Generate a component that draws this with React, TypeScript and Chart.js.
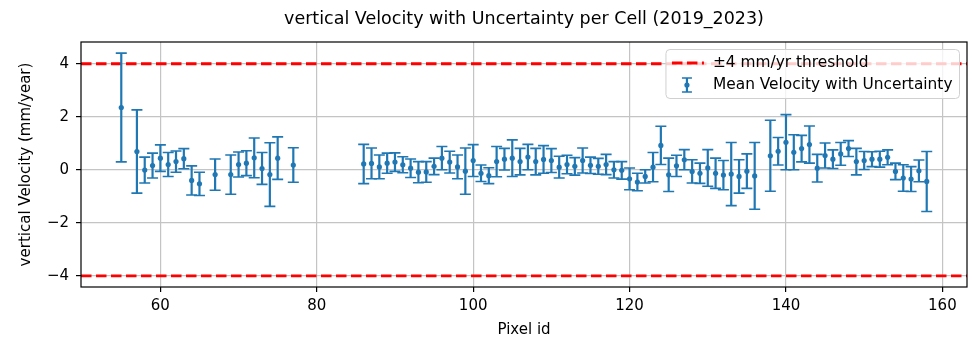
import { useEffect, useRef } from "react";
import { Chart, registerables } from "chart.js";

Chart.register(...registerables);

// ---------------- data ----------------
const pixelIds = [
  55, 57, 58, 59, 60, 61, 62, 63, 64, 65, 67, 69, 70, 71, 72, 73, 74, 75, 77,
  86, 87, 88, 89, 90, 91, 92, 93, 94, 95, 96, 97, 98, 99, 100, 101, 102, 103, 104, 105,
  106, 107, 108, 109, 110, 111, 112, 113, 114, 115, 116, 117, 118, 119, 120, 121, 122,
  123, 124, 125, 126, 127, 128, 129, 130, 131, 132, 133, 134, 135, 136,
  138, 139, 140, 141, 142, 143, 144, 145, 146, 147, 148, 149, 150, 151, 152, 153, 154,
  155, 156, 157, 158,
];

const meanVelocity = [
  2.35, 0.69, -0.01, 0.16, 0.44, 0.2, 0.31, 0.42, -0.4, -0.53, -0.18, -0.18, 0.2, 0.25, 0.45, 0.05, -0.18, 0.44, 0.18,
  0.22, 0.24, 0.11, 0.25, 0.29, 0.19, 0.06, -0.09, -0.08, 0.13, 0.44, 0.29, 0.11, -0.05, 0.35, -0.13, -0.22, 0.31, 0.4, 0.44,
  0.31, 0.48, 0.31, 0.39, 0.35, 0.1, 0.2, 0.13, 0.35, 0.17, 0.13, 0.2, 0.0, -0.02, -0.34, -0.46, -0.25,
  0.1, 0.92, -0.19, 0.15, 0.38, -0.06, -0.13, 0.07, -0.13, -0.2, -0.16, -0.25, -0.05, -0.23,
  0.53, 0.7, 1.04, 0.66, 0.8, 0.95, 0.06, 0.54, 0.4, 0.6, 0.8, 0.31, 0.35, 0.4, 0.4, 0.47, -0.06,
  -0.31, -0.35, -0.04, -0.44,
];

const uncertainty = [
  2.05, 1.57, 0.49, 0.47, 0.5, 0.45, 0.4, 0.38, 0.55, 0.44, 0.59, 0.74, 0.47, 0.47, 0.75, 0.6, 1.2, 0.8, 0.65,
  0.74, 0.58, 0.45, 0.38, 0.35, 0.3, 0.35, 0.4, 0.39, 0.31, 0.44, 0.41, 0.45, 0.87, 0.6, 0.31, 0.3, 0.57, 0.41, 0.69,
  0.5, 0.48, 0.5, 0.52, 0.45, 0.41, 0.35, 0.33, 0.47, 0.31, 0.3, 0.38, 0.31, 0.33, 0.41, 0.33, 0.25,
  0.55, 0.72, 0.63, 0.4, 0.38, 0.44, 0.38, 0.69, 0.57, 0.55, 1.19, 0.63, 0.65, 1.26,
  1.34, 0.52, 1.04, 0.66, 0.5, 0.7, 0.52, 0.47, 0.35, 0.43, 0.3, 0.5, 0.34, 0.28, 0.3, 0.28, 0.31,
  0.5, 0.47, 0.41, 1.13,
];

const thresholdValues = [4, -4];
const xTicks = [60, 80, 100, 120, 140, 160];
const xTickLabels = ["60", "80", "100", "120", "140", "160"];
const yTicks = [-4, -2, 0, 2, 4];
const yTickLabels = ["\u22124", "\u22122", "0", "2", "4"];

const titleText = "vertical Velocity with Uncertainty per Cell (2019_2023)";
const xTitle = "Pixel id";
const yTitle = "vertical Velocity (mm/year)";
const legendLabels = ["\u00b14 mm/yr threshold", "Mean Velocity with Uncertainty"];

// ---------------- styles ----------------
const FONT = "'DejaVu Sans', 'Liberation Sans', sans-serif";
const BLUE = "#1f77b4";
const RED = "#ff0000";
const X_MIN = 49.85;
const X_MAX = 163.15;
const Y_MIN = -4.42;
const Y_MAX = 4.82;

const errorBarPlugin = {
  id: "errorBars",
  beforeDatasetDraw(chart: any, args: any) {
    if (args.index !== 0) return;
    const { ctx } = chart;
    const xs = chart.scales.x;
    const ys = chart.scales.y;
    const cap = 5.5;
    ctx.save();
    ctx.strokeStyle = BLUE;
    ctx.lineCap = "butt";
    pixelIds.forEach((id, i) => {
      const px = xs.getPixelForValue(id);
      const top = ys.getPixelForValue(meanVelocity[i] + uncertainty[i]);
      const bot = ys.getPixelForValue(meanVelocity[i] - uncertainty[i]);
      ctx.lineWidth = 2.2;
      ctx.beginPath();
      ctx.moveTo(px, top);
      ctx.lineTo(px, bot);
      ctx.stroke();
      ctx.lineWidth = 1.6;
      ctx.beginPath();
      ctx.moveTo(px - cap, top);
      ctx.lineTo(px + cap, top);
      ctx.moveTo(px - cap, bot);
      ctx.lineTo(px + cap, bot);
      ctx.stroke();
    });
    ctx.restore();
  },
};

const framePlugin = {
  id: "frameAndLegend",
  afterDatasetsDraw(chart: any) {
    const { ctx, chartArea } = chart;
    const { left, right, top, bottom } = chartArea;
    // axes frame (all four spines)
    ctx.save();
    ctx.strokeStyle = "#000";
    ctx.lineWidth = 1.2;
    ctx.strokeRect(left, top, right - left, bottom - top);
    ctx.restore();

    // title, centred over the axes
    ctx.save();
    ctx.font = `17.5px ${FONT}`;
    ctx.fillStyle = "#000";
    ctx.textAlign = "center";
    ctx.textBaseline = "middle";
    ctx.fillText(titleText, (left + right) / 2, 19);
    ctx.restore();

    // legend (drawn inside the axes, upper right)
    ctx.save();
    ctx.font = `15.4px ${FONT}`;
    const textW = Math.max(...legendLabels.map((t) => ctx.measureText(t).width));
    const boxRight = right - 7.5;
    const boxTop = top + 7.5;
    const textX = boxRight - 7 - textW;
    const boxLeft = textX - 47;
    const boxH = 49;
    const r = 4;
    ctx.beginPath();
    ctx.moveTo(boxLeft + r, boxTop);
    ctx.lineTo(boxRight - r, boxTop);
    ctx.quadraticCurveTo(boxRight, boxTop, boxRight, boxTop + r);
    ctx.lineTo(boxRight, boxTop + boxH - r);
    ctx.quadraticCurveTo(boxRight, boxTop + boxH, boxRight - r, boxTop + boxH);
    ctx.lineTo(boxLeft + r, boxTop + boxH);
    ctx.quadraticCurveTo(boxLeft, boxTop + boxH, boxLeft, boxTop + boxH - r);
    ctx.lineTo(boxLeft, boxTop + r);
    ctx.quadraticCurveTo(boxLeft, boxTop, boxLeft + r, boxTop);
    ctx.closePath();
    ctx.fillStyle = "rgba(255,255,255,0.8)";
    ctx.fill();
    ctx.strokeStyle = "#d0d0d0";
    ctx.lineWidth = 1;
    ctx.stroke();

    const row1 = boxTop + 13.5;
    const row2 = boxTop + 35.5;
    const hx0 = boxLeft + 6;
    const hx1 = hx0 + 30;
    // threshold handle
    ctx.strokeStyle = RED;
    ctx.lineWidth = 2.9;
    ctx.setLineDash([10.5, 4.5]);
    ctx.beginPath();
    ctx.moveTo(hx0, row1);
    ctx.lineTo(hx1 + 2, row1);
    ctx.stroke();
    ctx.setLineDash([]);
    // errorbar handle
    const hc = (hx0 + hx1) / 2;
    ctx.strokeStyle = BLUE;
    ctx.lineWidth = 2.2;
    ctx.beginPath();
    ctx.moveTo(hc, row2 - 7);
    ctx.lineTo(hc, row2 + 7);
    ctx.stroke();
    ctx.lineWidth = 1.6;
    ctx.beginPath();
    ctx.moveTo(hc - 5, row2 - 7);
    ctx.lineTo(hc + 5, row2 - 7);
    ctx.moveTo(hc - 5, row2 + 7);
    ctx.lineTo(hc + 5, row2 + 7);
    ctx.stroke();
    ctx.fillStyle = BLUE;
    ctx.beginPath();
    ctx.arc(hc, row2, 2.6, 0, Math.PI * 2);
    ctx.fill();

    ctx.fillStyle = "#000";
    ctx.textBaseline = "middle";
    ctx.textAlign = "left";
    ctx.fillText(legendLabels[0], textX, row1);
    ctx.fillText(legendLabels[1], textX, row2);
    ctx.restore();
  },
};

export default function App() {
  const canvasRef = useRef<HTMLCanvasElement | null>(null);

  useEffect(() => {
    document.body.style.margin = "0";
    const canvas = canvasRef.current;
    if (!canvas) return;

    const pointData = pixelIds.map((id, i) => ({ x: id, y: meanVelocity[i] }));
    const thresholdSets = thresholdValues.map((v, k) => ({
      type: "line" as const,
      label: k === 0 ? legendLabels[0] : "",
      data: [
        { x: X_MIN, y: v },
        { x: X_MAX, y: v },
      ],
      borderColor: RED,
      borderWidth: 2.9,
      borderDash: [10.5, 4.5],
      pointRadius: 0,
      fill: false,
      order: 1,
    }));

    const chart = new Chart(canvas, {
      type: "scatter",
      data: {
        datasets: [
          {
            type: "scatter" as const,
            label: legendLabels[1],
            data: pointData,
            backgroundColor: BLUE,
            borderColor: BLUE,
            pointRadius: 2.6,
            pointBorderWidth: 0,
            order: 0,
          },
          ...thresholdSets,
        ] as any,
      },
      options: {
        animation: false,
        responsive: false,
        devicePixelRatio: 1,
        layout: { padding: { left: 0, right: 5, top: 42, bottom: 0 } },
        plugins: {
          legend: { display: false },
          tooltip: { enabled: false },
          title: { display: false },
        },
        scales: {
          x: {
            type: "linear",
            min: X_MIN,
            max: X_MAX,
            afterBuildTicks: (scale: any) => {
              scale.ticks = xTicks.map((v) => ({ value: v }));
            },
            afterFit: (scale: any) => {
              scale.height = 56;
            },
            ticks: {
              color: "#000",
              font: { family: FONT, size: 15 },
              padding: 5,
              maxRotation: 0,
              autoSkip: false,
              callback: (value: any) => {
                const idx = xTicks.indexOf(Number(value));
                return idx >= 0 ? xTickLabels[idx] : "";
              },
            },
            grid: {
              color: "#c4c4c4",
              lineWidth: 1.2,
              tickColor: "#000",
              tickLength: 5,
              tickWidth: 1.2,
            },
            border: { display: false },
            title: {
              display: true,
              text: xTitle,
              color: "#000",
              font: { family: FONT, size: 15 },
              padding: { top: 0, bottom: 4 },
            },
          },
          y: {
            type: "linear",
            min: Y_MIN,
            max: Y_MAX,
            afterBuildTicks: (scale: any) => {
              scale.ticks = yTicks.map((v) => ({ value: v }));
            },
            afterFit: (scale: any) => {
              scale.width = 81;
            },
            ticks: {
              color: "#000",
              font: { family: FONT, size: 15 },
              padding: 7,
              autoSkip: false,
              callback: (value: any) => {
                const idx = yTicks.indexOf(Number(value));
                return idx >= 0 ? yTickLabels[idx] : "";
              },
            },
            grid: {
              color: "#c4c4c4",
              lineWidth: 1.2,
              tickColor: "#000",
              tickLength: 5,
              tickWidth: 1.2,
            },
            border: { display: false },
            title: {
              display: true,
              text: yTitle,
              color: "#000",
              font: { family: FONT, size: 15 },
              padding: { top: 17, bottom: 0 },
            },
          },
        },
      },
      plugins: [errorBarPlugin, framePlugin],
    });

    return () => {
      chart.destroy();
    };
  }, []);

  return (
    <div style={{ position: "absolute", left: 0, top: 0, width: 972, height: 343, background: "#fff" }}>
      <canvas ref={canvasRef} width={972} height={343} style={{ display: "block", width: 972, height: 343 }} />
    </div>
  );
}
